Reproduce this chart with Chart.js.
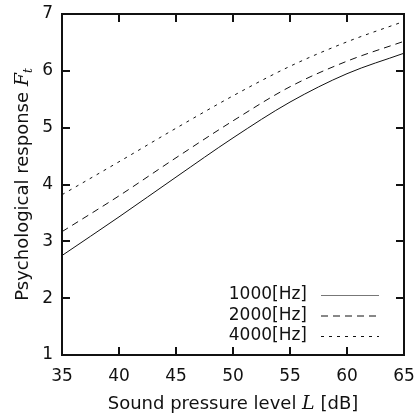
<!DOCTYPE html>
<html>
<head>
<meta charset="utf-8">
<script src="https://cdn.jsdelivr.net/npm/chart.js@4"></script>
<style>
  html, body { margin: 0; padding: 0; background: #fff; }
  #wrap { width: 414px; height: 418px; }
</style>
</head>
<body>
<div id="wrap"><canvas id="chart"></canvas></div>
<script>
// sound pressure level [dB]
const levels = [35, 40, 45, 50, 55, 60, 65];
// psychological response Ft per frequency
const resp1000 = [2.75, 3.43, 4.13, 4.82, 5.45, 5.95, 6.31];
const resp2000 = [3.17, 3.80, 4.47, 5.12, 5.72, 6.17, 6.52];
const resp4000 = [3.82, 4.40, 4.99, 5.56, 6.08, 6.51, 6.87];
const seriesNames = ['1000[Hz]', '2000[Hz]', '4000[Hz]'];
const xTicks = [35, 40, 45, 50, 55, 60, 65];
const yTicks = [1, 2, 3, 4, 5, 6, 7];

const FONT = '"DejaVu Sans", Arial, sans-serif';
const SERIF = '"DejaVu Serif", "Liberation Serif", serif';
const dashes = [[], [7, 5], [3, 5]];

function pts(ys) {
    return levels.map((x, i) => ({ x, y: ys[i] }));
}

// frame, inward ticks on all sides, axis titles, legend
const decor = {
    id: 'decor',
    afterDatasetsDraw(chart) {
        const { ctx, chartArea: a, scales } = chart;
        ctx.save();
        ctx.strokeStyle = '#111';
        ctx.lineWidth = 2;
        ctx.strokeRect(a.left, a.top, a.right - a.left, a.bottom - a.top);

        const tl = 8;
        ctx.beginPath();
        xTicks.forEach(v => {
            const px = Math.round(scales.x.getPixelForValue(v));
            ctx.moveTo(px, a.bottom); ctx.lineTo(px, a.bottom - tl);
            ctx.moveTo(px, a.top); ctx.lineTo(px, a.top + tl);
        });
        yTicks.forEach(v => {
            const py = Math.round(scales.y.getPixelForValue(v));
            ctx.moveTo(a.left, py); ctx.lineTo(a.left + tl, py);
            ctx.moveTo(a.right, py); ctx.lineTo(a.right - tl, py);
        });
        ctx.stroke();

        // x title
        ctx.fillStyle = '#111';
        ctx.textBaseline = 'alphabetic';
        const xParts = [
            ['Sound pressure level ', '18px ' + FONT],
            ['L', 'italic 19px ' + SERIF],
            [' [dB]', '18px ' + FONT],
        ];
        let w = 0;
        xParts.forEach(p => { ctx.font = p[1]; w += ctx.measureText(p[0]).width; });
        let x = (a.left + a.right) / 2 - w / 2;
        xParts.forEach(p => {
            ctx.font = p[1];
            ctx.fillText(p[0], x, 409);
            x += ctx.measureText(p[0]).width;
        });

        // y title (rotated)
        ctx.save();
        ctx.translate(28, (a.top + a.bottom) / 2);
        ctx.rotate(-Math.PI / 2);
        const yParts = [
            ['Psychological response ', '18px ' + FONT, 0],
            ['F', 'italic 19px ' + SERIF, 0],
            ['t', 'italic 12px ' + SERIF, 4],
        ];
        w = 0;
        yParts.forEach(p => { ctx.font = p[1]; w += ctx.measureText(p[0]).width; });
        x = -w / 2;
        yParts.forEach(p => {
            ctx.font = p[1];
            ctx.fillText(p[0], x, p[2]);
            x += ctx.measureText(p[0]).width;
        });
        ctx.restore();

        // legend
        ctx.font = '17px ' + FONT;
        ctx.textAlign = 'right';
        ctx.textBaseline = 'middle';
        chart.data.datasets.forEach((ds, i) => {
            const y = 295 + i * 20.5;
            ctx.fillStyle = '#111';
            ctx.fillText(ds.label, 307, y);
            ctx.beginPath();
            ctx.strokeStyle = i === 0 ? '#777' : '#111';
            ctx.lineWidth = 1;
            ctx.setLineDash(dashes[i]);
            ctx.moveTo(321, y + 0.5);
            ctx.lineTo(379, y + 0.5);
            ctx.stroke();
        });
        ctx.setLineDash([]);
        ctx.restore();
    }
};

new Chart(document.getElementById('chart'), {
    type: 'line',
    data: {
        datasets: [resp1000, resp2000, resp4000].map((ys, i) => ({
            label: seriesNames[i],
            data: pts(ys),
            borderColor: '#111',
            borderWidth: 1,
            borderDash: dashes[i],
            pointRadius: 0,
            cubicInterpolationMode: 'monotone',
            fill: false,
        }))
    },
    options: {
        responsive: true,
        maintainAspectRatio: false,
        animation: false,
        layout: { padding: { top: 14, right: 10, left: 0, bottom: 0 } },
        plugins: { legend: { display: false }, tooltip: { enabled: false } },
        scales: {
            x: {
                type: 'linear', min: 35, max: 65,
                afterBuildTicks: s => { s.ticks = xTicks.map(v => ({ value: v })); },
                afterFit: s => { s.height = 63; s.paddingLeft = 0; s.paddingRight = 0; },
                grid: { display: false, drawTicks: false },
                border: { display: false },
                ticks: { color: '#111', font: { family: FONT, size: 17 }, padding: 11, maxRotation: 0 },
            },
            y: {
                type: 'linear', min: 1, max: 7,
                afterBuildTicks: s => { s.ticks = yTicks.map(v => ({ value: v })); },
                afterFit: s => { s.width = 62; s.paddingTop = 0; s.paddingBottom = 0; },
                grid: { display: false, drawTicks: false },
                border: { display: false },
                ticks: { color: '#111', font: { family: FONT, size: 17 }, padding: 9 },
            }
        }
    },
    plugins: [decor]
});
</script>
</body>
</html>
